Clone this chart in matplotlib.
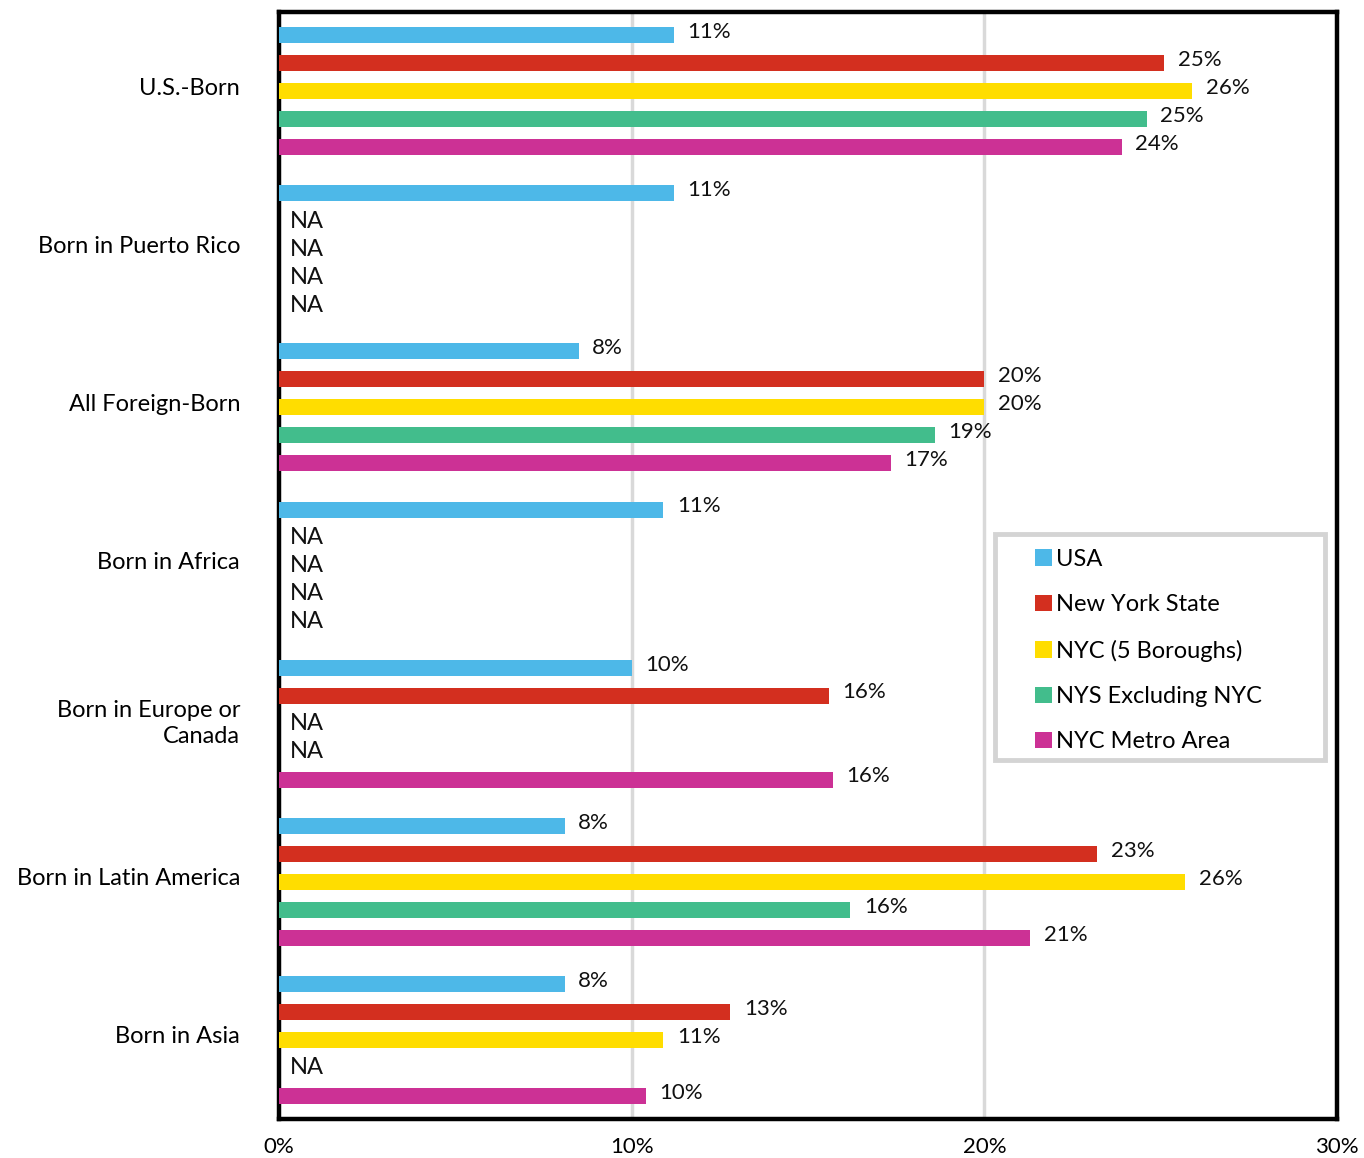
import matplotlib
matplotlib.use("Agg")
import matplotlib.pyplot as plt
import matplotlib.transforms as mtransforms
from matplotlib.patches import Rectangle
import numpy as np

plt.rcParams['font.family'] = ['Lato', 'DejaVu Sans']

categories = ["U.S.-Born", "Born in Puerto Rico", "All Foreign-Born", "Born in Africa",
              "Born in Europe or\nCanada", "Born in Latin America", "Born in Asia"]
series_names = ["USA", "New York State", "NYC (5 Boroughs)", "NYS Excluding NYC", "NYC Metro Area"]
colors = ["#4DB8E8", "#D32F1F", "#FFDD00", "#42BD8C", "#CC3195"]

usa = [11.2, 11.2, 8.5, 10.9, 10.0, 8.1, 8.1]
nys = [25.1, None, 20.0, None, 15.6, 23.2, 12.8]
nyc = [25.9, None, 20.0, None, None, 25.7, 10.9]
nys_excl = [24.6, None, 18.6, None, None, 16.2, None]
metro = [23.9, None, 17.35, None, 15.7, 21.3, 10.4]
series = [usa, nys, nyc, nys_excl, metro]

fig = plt.figure(figsize=(13.64, 11.58), dpi=100)
ax = fig.add_axes([279 / 1364, 1 - 1119 / 1158, (1337 - 279) / 1364, (1119 - 12) / 1158])

step = 28 / 158.2
bar_h = 16 / 158.2
y = np.arange(len(categories))

for j, (name, vals, c) in enumerate(zip(series_names, series, colors)):
    off = (j - 2) * step
    for i, v in enumerate(vals):
        yy = y[i] + off
        if v is None:
            ax.text(0.32, yy, "NA", ha="left", va="center", fontsize=17, color="#111111")
            continue
        ax.barh(yy, v, height=bar_h, color=c, zorder=3)
        ax.text(v + 0.38, yy - 0.02, f"{v:.0f}%", ha="left", va="center", fontsize=16, color="#111111")
    ax.barh(np.nan, 0, color=c, label=name)

ax.set_xlim(0, 30)
ax.set_ylim(len(categories) - 0.5, -0.5)
ax.set_xticks([0, 10, 20, 30])
ax.set_xticklabels(["0%", "10%", "20%", "30%"], fontsize=16)
ax.set_yticks(y)
ax.set_yticklabels(categories, fontsize=17, ha="right", linespacing=1.3)
ax.tick_params(axis="y", length=0, pad=28)
ax.tick_params(axis="x", length=0, pad=13)
lift = mtransforms.ScaledTranslation(0, 5 / 100, fig.dpi_scale_trans)
for lab in ax.get_yticklabels():
    lab.set_transform(lab.get_transform() + lift)
for v in [10, 20]:
    ax.axvline(v, color="#d9d9d9", lw=2.5, zorder=1)
for s in ax.spines.values():
    s.set_linewidth(3.2)
    s.set_color("black")

leg = ax.legend(loc="upper left", bbox_to_anchor=((1035 - 279) / 1058, 1 - (549 - 12) / 1107),
                frameon=False, fontsize=17, handlelength=0.7, handleheight=0.7,
                handletextpad=0.2, labelspacing=1.03, borderpad=0, borderaxespad=0)
ax.add_patch(Rectangle(((995 - 279) / 1058, 1 - (760 - 12) / 1107), (1325 - 995) / 1058, (760 - 534) / 1107,
                       transform=ax.transAxes, fill=False, edgecolor="#d4d4d4", lw=3.5, zorder=5))

fig.savefig("out.png", dpi=100)
